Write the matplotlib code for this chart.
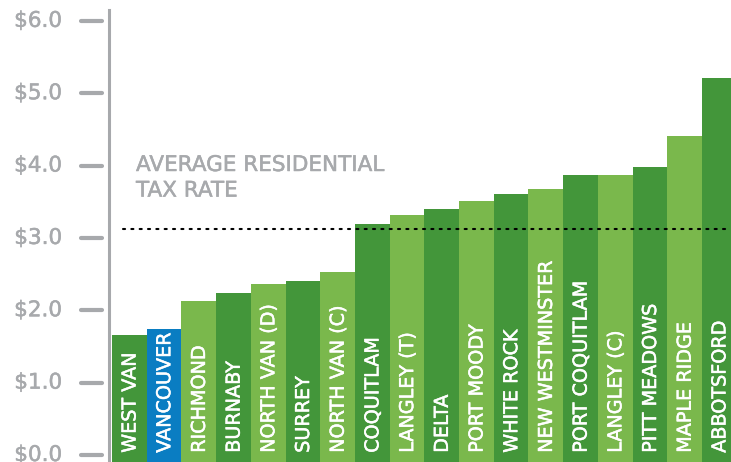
import numpy as np
import matplotlib
matplotlib.use("Agg")
import matplotlib.pyplot as plt
import matplotlib.transforms as mtransforms
import matplotlib.patheffects as pe

# municipalities, sorted by residential tax rate ($ per $1,000)
cities = ["WEST VAN", "VANCOUVER", "RICHMOND", "BURNABY", "NORTH VAN (D)",
          "SURREY", "NORTH VAN (C)", "COQUITLAM", "LANGLEY (T)", "DELTA",
          "PORT MOODY", "WHITE ROCK", "NEW WESTMINSTER", "PORT COQUITLAM",
          "LANGLEY (C)", "PITT MEADOWS", "MAPLE RIDGE", "ABBOTSFORD"]
rates = [1.66, 1.74, 2.13, 2.24, 2.37, 2.41, 2.53, 3.19, 3.32, 3.40,
         3.51, 3.61, 3.67, 3.87, 3.87, 3.98, 4.41, 5.21]
avg_rate = 3.13
yticks = [0, 1, 2, 3, 4, 5, 6]
ytick_labels = ["$0.0", "$1.0", "$2.0", "$3.0", "$4.0", "$5.0", "$6.0"]

DARK = "#43963a"
LIGHT = "#7ab84c"
BLUE = "#0a7dc2"
GREY = "#a7a9ac"

bar_colors = [DARK, BLUE] + [LIGHT if i % 2 == 0 else DARK
                             for i in range(2, len(cities))]

plt.rcParams["font.family"] = ["DejaVu Sans"]


def heavier(color):
    # thin outline in the text colour gives a medium weight
    return [pe.withStroke(linewidth=0.35, foreground=color)]


W, H = 731, 462
fig = plt.figure(figsize=(W / 100, H / 100), dpi=100)
# axes spans from the y axis line to the right edge
ax = fig.add_axes([109 / W, 0, 1 - 109 / W, 452 / H])

y0, y1 = -0.097, 6.15
ax.set_ylim(y0, y1)
x = np.arange(len(cities))
step = 34.7
ax.set_xlim(-0.5 - 3 / step, -0.5 - 3 / step + (W - 109) / step)

vals = np.array(rates)
ax.bar(x, vals - y0, bottom=y0, width=1.0, color=bar_colors, linewidth=0)

for xi, name in zip(x, cities):
    ax.text(xi + 0.02, 0.03, name, rotation=90, ha="center", va="bottom",
            color="white", fontsize=13.8, path_effects=heavier("white"))

# pixel-based transform for free text
px = mtransforms.Affine2D().scale(1 / W, -1 / H).translate(0, 1) + fig.transFigure

# average line
ax.axhline(avg_rate, xmin=14 / (W - 109), xmax=1, color="black",
           linewidth=1.5, linestyle=(0, (1, 3)), dash_capstyle="round")
fig.text(136, 155, "AVERAGE RESIDENTIAL\nTAX RATE", transform=px, color=GREY,
         fontsize=15.5, ha="left", va="top", linespacing=1.35,
         path_effects=heavier(GREY))

# axis styling
for s in ["top", "right", "bottom"]:
    ax.spines[s].set_visible(False)
ax.spines["left"].set_color(GREY)
ax.spines["left"].set_linewidth(2.2)
ax.set_xticks([])
ax.set_yticks([])

# dashes next to the axis line, with a small gap
trans = mtransforms.blended_transform_factory(fig.transFigure, ax.transData)
for t, lab in zip(yticks, ytick_labels):
    ax.plot([81 / W, 102 / W], [t, t], transform=trans, color=GREY,
            linewidth=3, solid_capstyle="round", clip_on=False)
    ax.text(62 / W, t, lab, transform=trans, ha="right", va="center",
            color=GREY, fontsize=15.5, clip_on=False,
            path_effects=heavier(GREY))

fig.savefig("out.png", dpi=100)
